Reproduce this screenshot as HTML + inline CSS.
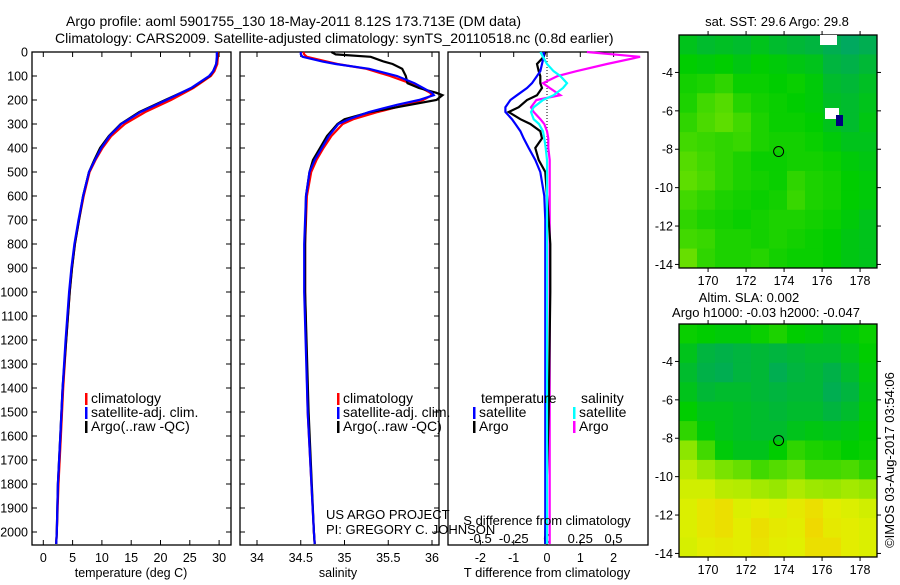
<!DOCTYPE html>
<html><head><meta charset="utf-8"><style>
body{margin:0;background:#fff;width:900px;height:580px;overflow:hidden}
svg text{font-family:"Liberation Sans",sans-serif;font-size:12.5px;fill:#000}
svg text.big{font-size:14px}
svg text.mid{font-size:13px}
</style></head><body>
<svg id="c" width="900" height="580" viewBox="0 0 900 580" xmlns="http://www.w3.org/2000/svg">
<text class="big" x="66" y="26">Argo profile: aoml 5901755_130 18-May-2011 8.12S 173.713E (DM data)</text>
<text class="big" x="55" y="43">Climatology: CARS2009. Satellite-adjusted climatology: synTS_20110518.nc (0.8d earlier)</text>
<g id="g"></g>
</svg>
<script>
// ---- data ----
const tDepth=[0,20,50,80,100,150,200,250,300,350,400,450,500,600,700,800,900,1000,1200,1400,1600,1800,2000,2050];
const tClim=[29.8,29.8,29.7,29.2,28.6,25.6,21.8,17.4,13.9,11.6,10.1,8.9,7.9,6.9,6.1,5.4,4.9,4.5,3.9,3.4,3.0,2.6,2.3,2.2];
const tSat=[29.6,29.6,29.5,29.0,28.3,25.2,21.0,16.6,13.3,11.3,9.9,8.8,7.8,6.8,6.0,5.3,4.8,4.4,3.8,3.3,2.9,2.5,2.3,2.2];
const tArgo=[29.7,29.7,29.5,29.0,28.4,25.3,20.8,16.4,13.2,11.2,9.7,8.7,7.8,6.8,6.1,5.4,4.9,4.5,3.9,3.3,2.9,2.5,2.3,2.2];
const sDepth=[0,10,20,40,50,70,100,130,150,170,180,200,220,250,280,300,350,400,450,500,600,800,1000,1500,2000,2050];
const sClim=[34.53,34.54,34.57,34.8,34.92,35.25,35.52,35.75,35.88,35.98,36.0,35.9,35.7,35.38,35.1,34.98,34.85,34.76,34.68,34.62,34.57,34.55,34.55,34.58,34.65,34.66];
const sSat=[34.5,34.5,34.52,34.75,34.9,35.28,35.6,35.8,35.9,36.0,36.02,35.85,35.6,35.28,35.05,34.93,34.82,34.74,34.66,34.6,34.56,34.54,34.54,34.58,34.65,34.66];
const sArgo=[34.85,34.9,35.3,35.45,35.55,35.66,35.7,35.72,35.85,36.05,36.12,36.05,35.75,35.3,35.0,34.92,34.8,34.72,34.64,34.6,34.56,34.55,34.55,34.59,34.65,34.66];
const dDepth=[0,20,50,80,100,130,150,180,200,230,250,280,300,330,360,400,450,500,600,700,800,1000,1500,2000,2050];
const dTSat=[-0.1,-0.1,-0.15,-0.2,-0.3,-0.45,-0.6,-0.9,-1.1,-1.25,-1.25,-1.05,-0.95,-0.8,-0.7,-0.55,-0.35,-0.2,-0.08,-0.05,-0.05,-0.05,-0.05,-0.05,-0.05];
const dTArgo=[-0.05,-0.1,-0.3,-0.25,-0.2,-0.2,-0.15,-0.3,-0.6,-0.85,-1.15,-0.8,-0.5,-0.2,-0.15,-0.35,-0.25,-0.05,0.0,0.05,0.1,0.1,0.05,-0.05,-0.05];
const dSSat=[-0.05,-0.03,0.0,0.05,0.1,0.15,0.12,0.05,-0.03,-0.1,-0.12,-0.1,-0.06,-0.03,-0.02,-0.01,0.0,0.0,0.0,0.0,0.0,0.0,0.0,0.0,0.0];
const dSArgo=[0.3,0.7,0.45,0.22,0.08,-0.03,0.02,0.1,-0.08,-0.12,-0.1,-0.05,-0.02,0.0,0.01,0.01,0.02,0.02,0.02,0.02,0.02,0.02,0.02,0.02,0.02];
const depthTicks=[0,100,200,300,400,500,600,700,800,900,1000,1100,1200,1300,1400,1500,1600,1700,1800,1900,2000];
const tTicks=[0,5,10,15,20,25,30];
const sTicks=[34,34.5,35,35.5,36];
const sTickLabels=["34","34.5","35","35.5","36"];
const dTTicks=[-2,-1,0,1,2];
const dSTicks=[-0.5,-0.25,0,0.25,0.5];
const dSTickLabels=["-0.5","-0.25","0","0.25","0.5"];
const lonTicks=[170,172,174,176,178];
const latTicks=[-4,-6,-8,-10,-12,-14];
const sstGrid=[
[.52,.50,.51,.50,.52,.50,.49,.48,.46,.44,.46],
[.55,.54,.55,.53,.55,.54,.53,.52,.48,.47,.49],
[.57,.58,.60,.56,.56,.55,.56,.54,.50,.49,.51],
[.58,.62,.64,.59,.57,.56,.55,.54,.51,.50,.52],
[.60,.63,.65,.62,.58,.56,.56,.55,.52,.50,.53],
[.62,.61,.60,.61,.58,.57,.57,.56,.54,.52,.52],
[.64,.62,.60,.58,.56,.56,.57,.57,.56,.54,.53],
[.65,.63,.60,.58,.57,.56,.60,.58,.57,.55,.54],
[.62,.60,.58,.57,.56,.57,.61,.58,.57,.55,.54],
[.60,.58,.57,.56,.57,.58,.58,.57,.56,.54,.52],
[.62,.61,.58,.58,.57,.58,.57,.56,.55,.53,.52],
[.66,.60,.58,.58,.59,.57,.56,.56,.55,.53,.52]];
const slaGrid=[
[.56,.55,.54,.54,.56,.58,.55,.54,.52,.54,.56],
[.52,.48,.47,.48,.49,.48,.49,.50,.50,.52,.55],
[.50,.47,.46,.48,.49,.46,.48,.49,.47,.50,.54],
[.52,.49,.50,.50,.49,.48,.49,.49,.46,.48,.53],
[.55,.52,.52,.51,.50,.49,.50,.50,.48,.50,.54],
[.60,.54,.52,.51,.50,.50,.52,.53,.52,.53,.55],
[.70,.62,.54,.52,.52,.55,.60,.58,.57,.55,.56],
[.78,.72,.68,.66,.62,.64,.66,.62,.62,.63,.60],
[.82,.82,.78,.77,.74,.72,.76,.73,.72,.74,.72],
[.84,.88,.90,.84,.86,.84,.87,.90,.86,.84,.82],
[.84,.88,.90,.86,.90,.87,.86,.92,.87,.86,.84],
[.83,.86,.87,.86,.89,.86,.85,.90,.90,.86,.84]];
// ---- helpers ----
const NS='http://www.w3.org/2000/svg';const G=document.getElementById('g');
function mk(t,a,p){const e=document.createElementNS(NS,t);for(const k in a)e.setAttribute(k,a[k]);(p||G).appendChild(e);return e;}
const yD=d=>52+d*0.24;
const xT=t=>43.3+t*5.86, xS=s=>257+(s-34)*87.5, xdT=v=>547+v*33.3, xdS=v=>547+v*133;
function line(xs,ds,fx,col,name,w){const pts=xs.map((v,i)=>fx(v).toFixed(1)+','+yD(ds[i]).toFixed(1)).join(' ');
 const e=mk('polyline',{points:pts,fill:'none',stroke:col,'stroke-width':w||2.2});
 
 }
function box(x,y,w,h,name){const e=mk('rect',{x:x,y:y,width:w,height:h,fill:'none',stroke:'#000','stroke-width':1.3});
 
 }
function txt(x,y,s,name,anchor,cls){const e=mk('text',{x:x,y:y,'text-anchor':anchor||'start'});e.textContent=s;
 if(cls)e.setAttribute('class',cls);
 
 return e;}
function tick(x1,y1,x2,y2){const e=mk('line',{x1:x1,y1:y1,x2:x2,y2:y2,stroke:'#000','stroke-width':1});
 
 }
const T=52,B=545;
// panel 1
box(32,T,199,B-T,'temperature-panel');
depthTicks.forEach(d=>{tick(32,yD(d),37,yD(d));tick(226,yD(d),231,yD(d));txt(28,yD(d)+4.5,String(d),'depth-tick-label','end');});
tTicks.forEach(t=>{tick(xT(t),B,xT(t),B-5);tick(xT(t),T,xT(t),T+5);txt(xT(t),562,String(t),'temperature-tick-label','middle');});
txt(131,577,'temperature (deg C)','temperature-axis-title','middle');
line(tClim,tDepth,xT,'#f00','temperature-climatology-line');
line(tArgo,tDepth,xT,'#000','temperature-argo-line');
line(tSat,tDepth,xT,'#00f','temperature-satellite-line');
// panel 2
box(240,T,199,B-T,'salinity-panel');
depthTicks.forEach(d=>{tick(240,yD(d),245,yD(d));tick(434,yD(d),439,yD(d));});
sTicks.forEach((s,i)=>{tick(xS(s),B,xS(s),B-5);tick(xS(s),T,xS(s),T+5);txt(xS(s),562,sTickLabels[i],'salinity-tick-label','middle');});
txt(338,577,'salinity','salinity-axis-title','middle');
line(sClim,sDepth,xS,'#f00','salinity-climatology-line');
line(sArgo,sDepth,xS,'#000','salinity-argo-line');
line(sSat,sDepth,xS,'#00f','salinity-satellite-line');
// panel 3
box(448,T,200,B-T,'difference-panel');
mk('line',{x1:547,y1:T,x2:547,y2:B,stroke:'#000','stroke-width':1,'stroke-dasharray':'1,2'});
dTTicks.forEach(v=>{tick(xdT(v),B,xdT(v),B-5);tick(xdT(v),T,xdT(v),T+5);txt(xdT(v),562,String(v),'t-diff-tick-label','middle');});
dSTicks.forEach((v,i)=>{txt(xdS(v),543,dSTickLabels[i],'s-diff-tick-label','middle','mid');});
line(dSArgo,dDepth,xdS,'#f0f','salinity-diff-argo-line');
line(dTArgo,dDepth,xdT,'#000','temperature-diff-argo-line');
line(dTSat,dDepth,xdT,'#00f','temperature-diff-satellite-line');
line(dSSat,dDepth,xdS,'#0ff','salinity-diff-satellite-line');
txt(547,577,'T difference from climatology','t-diff-axis-title','middle','mid');
txt(547,525,'S difference from climatology','s-diff-axis-title','middle','mid');
// legends
function leg(x,y,col,s,name){const e=mk('rect',{x:x,y:y-10,width:2.5,height:12,fill:col});
 
 
 txt(x+6,y,s,name,'start','big');}
leg(85,403,'#f00','climatology','legend-climatology');leg(85,417,'#00f','satellite-adj. clim.','legend-satellite');leg(85,431,'#000','Argo(..raw -QC)','legend-argo');
leg(337,403,'#f00','climatology','legend2-climatology');leg(337,417,'#00f','satellite-adj. clim.','legend2-satellite');leg(337,431,'#000','Argo(..raw -QC)','legend2-argo');
txt(481,403,'temperature','legend3-temperature-header','start','big');txt(581,403,'salinity','legend3-salinity-header','start','big');
leg(473,417,'#00f','satellite','legend3-t-satellite');leg(473,431,'#000','Argo','legend3-t-argo');
leg(573,417,'#0ff','satellite','legend3-s-satellite');leg(573,431,'#f0f','Argo','legend3-s-argo');
txt(326,519,'US ARGO PROJECT','project-label','start','mid');txt(326,534,'PI: GREGORY C. JOHNSON','pi-label','start','mid');
// maps
const stops=[[0,[0,0,140]],[.3,[0,150,170]],[.45,[0,170,90]],[.55,[0,205,0]],[.7,[140,230,0]],[.85,[225,240,0]],[1,[255,190,0]]];
function cmap(v){for(let i=1;i<stops.length;i++){if(v<=stops[i][0]){const a=stops[i-1],b=stops[i],f=(v-a[0])/(b[0]-a[0]);
 return 'rgb('+a[1].map((c,j)=>Math.round(c+(b[1][j]-c)*f)).join(',')+')';}}return 'rgb(255,190,0)';}
function map(y0,grid,name){const x0=679,w=198,h=233,lon0=168.47,lat0=-2.05,px=19,py=19.2;
 const xL=l=>x0+(l-lon0)*px, yL=l=>y0+(lat0-l)*py;
 const cw=w/grid[0].length,ch=h/grid.length;
 grid.forEach((row,r)=>row.forEach((v,c)=>{const e=mk('rect',{x:x0+c*cw,y:y0+r*ch,width:cw+0.5,height:ch+0.5,fill:cmap(v)});
  
  }));
 box(x0,y0,w,h,name);
 lonTicks.forEach(l=>{tick(xL(l),y0,xL(l),y0-4);tick(xL(l),y0+h,xL(l),y0+h+4);txt(xL(l),y0+h+17,String(l),name+'-lon-label','middle');});
 latTicks.forEach(l=>{tick(x0,yL(l),x0-4,yL(l));tick(x0+w,yL(l),x0+w+4,yL(l));txt(x0-6,yL(l)+4.5,String(l),name+'-lat-label','end');});
 const c=mk('circle',{cx:xL(173.713),cy:yL(-8.12),r:5,fill:'none',stroke:'#000','stroke-width':1});
 
 
 return {xL,yL};}
const m1=map(35,sstGrid,'sst-map');
[[820,35,17,10],[825,108,14,11]].forEach(r=>{const e=mk('rect',{x:r[0],y:r[1],width:r[2],height:r[3],fill:'#fff'});});
const nb=mk('rect',{x:836,y:115,width:7,height:11,fill:'#00007f'});
txt(777,26,'sat. SST: 29.6 Argo: 29.8','sst-map-title','middle','mid');
map(324,slaGrid,'sla-map');
txt(749,302,'Altim. SLA: 0.002','sla-map-title-1','middle','mid');
txt(766,317,'Argo h1000: -0.03 h2000: -0.047','sla-map-title-2','middle','mid');
const r=txt(0,0,'©IMOS 03-Aug-2017 03:54:06','imos-stamp','middle','mid');r.setAttribute('transform','translate(894,460) rotate(-90)');
</script>
</body></html>
